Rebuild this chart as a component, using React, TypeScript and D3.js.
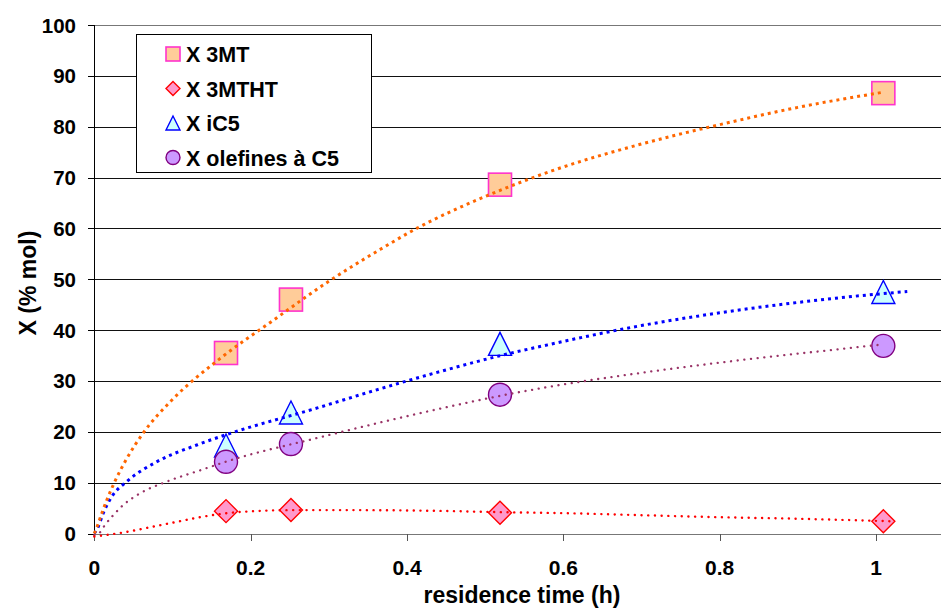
import React from "react";
import * as d3 from "d3";

// ---------- data ----------
const residenceTime = [0.1685, 0.2516, 0.519, 1.0094];
const x3MT = [35.5, 46, 68.6, 86.6];
const x3MTHT = [4.4, 4.6, 4.1, 2.4];
const xiC5 = [17.3, 23.8, 37.3, 47.5];
const xOlefines = [14.1, 17.6, 27.3, 36.9];

// trend curves: [time, X]
const trend3MT: [number, number][] = [
  [0, 0], [0.003, 1.1], [0.0094, 3.9], [0.0158, 6.5], [0.0265, 10.3],
  [0.0414, 14.7], [0.0627, 19.8], [0.099, 26.2], [0.16, 34.3], [0.226, 41.6],
  [0.3, 49.6], [0.365, 55.8], [0.4124, 60], [0.502, 66.4], [0.585, 71.3],
  [0.7, 76.6], [0.8, 80.4], [0.9, 83.8], [1.01, 86.8],
];
const trend3MTHT: [number, number][] = [
  [0, -0.6], [0.037, 0.2], [0.08, 1.5], [0.109, 2.4], [0.135, 3.2],
  [0.17, 4.0], [0.213, 4.45], [0.2555, 4.6], [0.332, 4.6], [0.42, 4.5],
  [0.52, 4.2], [0.6, 4.0], [0.7, 3.6], [0.8, 3.2], [0.9, 2.9], [1.02, 2.4],
];
const trendiC5: [number, number][] = [
  [0, 0], [0.005, 1.3], [0.0115, 4.0], [0.0222, 7.2], [0.0414, 10.2],
  [0.0798, 14.1], [0.131, 17.4], [0.17, 19.5], [0.2855, 24.7], [0.36, 28.2],
  [0.4436, 31.9], [0.52, 35], [0.58, 37.1], [0.7, 40.9], [0.8, 43.4],
  [0.956, 46.4], [1.04, 47.6],
];
const trendOlefines: [number, number][] = [
  [0, -0.3], [0.0064, 0.1], [0.0137, 1.7], [0.0243, 3.6], [0.037, 5.6],
  [0.0585, 7.9], [0.0926, 10.2], [0.135, 12.4], [0.17, 14.2], [0.2855, 18.8],
  [0.4436, 24.6], [0.52, 27.1], [0.58, 28.8], [0.7, 31.6], [0.8, 33.6],
  [0.956, 36.3], [1.01, 37.2],
];

const xTicks = [0, 0.2, 0.4, 0.6, 0.8, 1];
const xTickLabels = ["0", "0.2", "0.4", "0.6", "0.8", "1"];
const yTicks = [0, 10, 20, 30, 40, 50, 60, 70, 80, 90, 100];
const legendLabels = ["X 3MT", "X 3MTHT", "X iC5", "X olefines à C5"];

// ---------- layout ----------
const W = 941;
const H = 610;
const FONT = "'Liberation Sans', Arial, Helvetica, sans-serif";

export default function App() {
  const x = d3.scaleLinear().domain([0, 1]).range([94.3, 876]);
  const y = d3.scaleLinear().domain([0, 100]).range([533.5, 25]);
  const line = d3
    .line<[number, number]>()
    .x((d) => x(d[0]))
    .y((d) => y(d[1]))
    .curve(d3.curveMonotoneX);

  const M = 11.5; // half marker size

  const square = (cx: number, cy: number, h: number, key: string) => (
    <rect key={key} x={cx - h} y={cy - h} width={2 * h} height={2 * h}
      fill="#FFCC99" stroke="#FF33CC" strokeWidth={1.6} />
  );
  const diamond = (cx: number, cy: number, h: number, key: string) => (
    <path key={key} d={`M${cx},${cy - h}L${cx + h},${cy}L${cx},${cy + h}L${cx - h},${cy}Z`}
      fill="#FF99CC" stroke="#FF0000" strokeWidth={1.4} />
  );
  const triangle = (cx: number, cy: number, h: number, key: string) => (
    <path key={key} d={`M${cx},${cy - h}L${cx + h},${cy + h}L${cx - h},${cy + h}Z`}
      fill="#CCFFFF" stroke="#0000FF" strokeWidth={1.4} />
  );
  const circle = (cx: number, cy: number, h: number, key: string) => (
    <circle key={key} cx={cx} cy={cy} r={h} fill="#CC99FF" stroke="#800080" strokeWidth={1.4} />
  );

  const right = W;

  const trendLines = (k: string) => (
    <g key={k}>
      <path d={line(trendOlefines) || ""} fill="none" stroke="#993366" strokeWidth={2.3}
        strokeDasharray="0.1 6.6" strokeLinecap="round" />
      <path d={line(trend3MTHT) || ""} fill="none" stroke="#FF0000" strokeWidth={2.4}
        strokeDasharray="0.1 6.6" strokeLinecap="round" />
      <path d={line(trendiC5) || ""} fill="none" stroke="#0000FF" strokeWidth={3}
        strokeDasharray="3 4" />
      <path d={line(trend3MT) || ""} fill="none" stroke="#FF6600" strokeWidth={3}
        strokeDasharray="3 4" />
    </g>
  );

  return (
    <svg width={W} height={H} style={{ position: "absolute", left: 0, top: 0, background: "#fff" }}
      fontFamily={FONT}>
      <rect x={0} y={0} width={W} height={H} fill="#fff" />
      {/* gridlines */}
      {yTicks.map((t) => (
        <line key={"g" + t} x1={x(0)} x2={right} y1={Math.round(y(t)) + 0.5} y2={Math.round(y(t)) + 0.5}
          stroke={t === 0 || t === 100 ? "#777" : "#111"} strokeWidth={1} />
      ))}
      {/* y axis */}
      <line x1={94.5} x2={94.5} y1={y(100)} y2={y(0)} stroke="#000" strokeWidth={1} />
      {yTicks.map((t) => (
        <g key={"yt" + t}>
          <line x1={88} x2={94.5} y1={Math.round(y(t)) + 0.5} y2={Math.round(y(t)) + 0.5} stroke="#000" />
          <text x={76} y={y(t) + 7.5} textAnchor="end" fontSize={20.5} fontWeight="bold">{t}</text>
        </g>
      ))}
      {/* x ticks */}
      {xTicks.map((t, i) => (
        <g key={"xt" + t}>
          <line x1={Math.round(x(t)) + 0.5} x2={Math.round(x(t)) + 0.5} y1={534} y2={541} stroke="#555" />
          <text x={x(t)} y={575} textAnchor="middle" fontSize={21} fontWeight="bold">{xTickLabels[i]}</text>
        </g>
      ))}

      {/* markers */}
      {residenceTime.map((t, i) => square(x(t), y(x3MT[i]), M, "s" + i))}
      {residenceTime.map((t, i) => diamond(x(t), y(x3MTHT[i]), M, "d" + i))}
      {residenceTime.map((t, i) => triangle(x(t), y(xiC5[i]), M, "t" + i))}
      {residenceTime.map((t, i) => circle(x(t), y(xOlefines[i]), M, "c" + i))}

      {/* trend lines above markers */}
      {trendLines("tl")}

      {/* legend */}
      <rect x={136.5} y={34.5} width={235} height={138} fill="#fff" stroke="#000" strokeWidth={1} />
      {legendLabels.map((lab, i) => {
        const cy = 54 + i * 34.5;
        const mk = [square, diamond, triangle, circle][i];
        return (
          <g key={"lg" + i}>
            {mk(173, cy, 7, "lm" + i)}
            <text x={186} y={cy + 8} fontSize={21.5} fontWeight="bold">{lab}</text>
          </g>
        );
      })}

      {/* axis titles */}
      <text x={522} y={603} textAnchor="middle" fontSize={23} fontWeight="bold">residence time (h)</text>
      <text transform={`translate(36,283) rotate(-90)`} textAnchor="middle" fontSize={23} fontWeight="bold">X (% mol)</text>
    </svg>
  );
}
